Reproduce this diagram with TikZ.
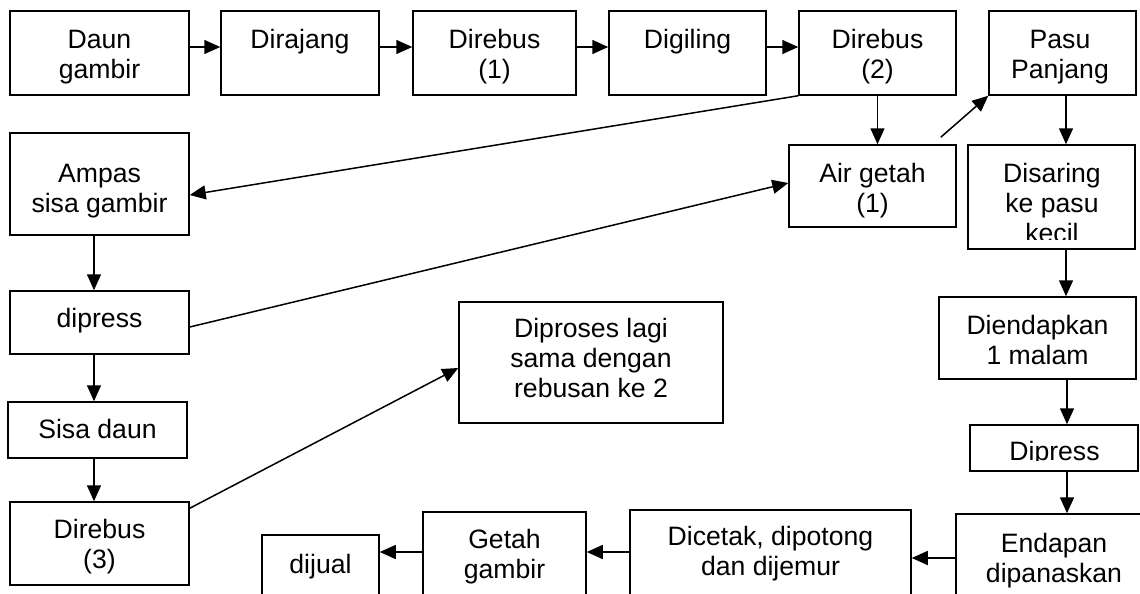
\documentclass[tikz,border=0pt]{standalone}
\usepackage{fontspec}
\setmainfont{Liberation Sans}
\usetikzlibrary{arrows.meta,calc}
\begin{document}
\begin{tikzpicture}[x=1pt,y=-1pt,
  box/.style={draw,line width=1.5pt,inner sep=0pt,rectangle},
  txt/.style={font=\fontsize{26.6}{30}\selectfont,align=center,inner sep=0pt,anchor=north},
  arr/.style={line width=1.5pt,-{Triangle[length=16pt,width=14pt]}}]
\clip (0,0) rectangle (1140,594);
\fill[white] (0,0) rectangle (1140,594);
% boxes
\node[box,minimum width=179pt,minimum height=84pt] (daun) at (99.5,53) {};
\node[box,minimum width=158pt,minimum height=84pt] (dirajang) at (300,53) {};
\node[box,minimum width=163pt,minimum height=84pt] (direbusone) at (494.5,53) {};
\node[box,minimum width=157pt,minimum height=84pt] (digiling) at (687.5,53) {};
\node[box,minimum width=157pt,minimum height=84pt] (direbustwo) at (877.5,53) {};
\node[box,minimum width=147pt,minimum height=84pt] (pasu) at (1062.5,53) {};
\node[box,minimum width=167pt,minimum height=82pt] (airgetah) at (872.5,186) {};
\node[box,minimum width=167pt,minimum height=104pt] (disaring) at (1051.5,197) {};
\node[box,minimum width=179pt,minimum height=102pt] (ampas) at (99.5,184) {};
\node[box,minimum width=179pt,minimum height=63pt] (dipressL) at (99.5,322.5) {};
\node[box,minimum width=179pt,minimum height=56pt] (sisa) at (97.5,430) {};
\node[box,minimum width=179pt,minimum height=83pt] (direbusthree) at (99.5,543.5) {};
\node[box,minimum width=264pt,minimum height=121pt] (diproses) at (591,362.5) {};
\node[box,minimum width=197pt,minimum height=82pt] (diendapkan) at (1037.5,338) {};
\node[box,minimum width=168pt,minimum height=46pt] (dipressR) at (1054,448) {};
\node[box,minimum width=196pt,minimum height=96pt] (endapan) at (1054,562) {};
\node[box,minimum width=281pt,minimum height=100pt] (dicetak) at (770.5,560) {};
\node[box,minimum width=163pt,minimum height=98pt] (getah) at (504.5,561) {};
\node[box,minimum width=117pt,minimum height=75pt] (dijual) at (320.5,572.5) {};
% texts
\node[txt] (tdaun) at (99.5,27) {\strut Daun\\\strut gambir};
\node[txt] (tdirajang) at (300,27) {\strut Dirajang};
\node[txt] (tdirebusone) at (494.5,27) {\strut Direbus\\\strut (1)};
\node[txt] (tdigiling) at (687.5,27) {\strut Digiling};
\node[txt] (tdirebustwo) at (877.5,27) {\strut Direbus\\\strut (2)};
\node[txt] (tpasu) at (1060,27) {\strut Pasu\\\strut Panjang};
\node[txt] (tairgetah) at (872.5,161) {\strut Air getah\\\strut (1)};
\begin{scope}
\clip (968,145) rectangle (1135,239.5);
\node[txt] (tdisaring) at (1052,161) {\strut Disaring\\\strut ke pasu\\\strut kecil};
\end{scope}
\node[txt] (tampas) at (99.5,161) {\strut Ampas\\\strut sisa gambir};
\node[txt] (tdipressL) at (99.5,306) {\strut dipress};
\node[txt] (tsisa) at (97.5,417) {\strut Sisa daun};
\node[txt] (tdirebusthree) at (99.5,517) {\strut Direbus\\\strut (3)};
\node[txt] (tdiproses) at (591,316) {\strut Diproses lagi\\\strut sama dengan\\\strut rebusan ke 2};
\node[txt] (tdiendapkan) at (1037.5,313) {\strut Diendapkan\\\strut 1 malam};
\begin{scope}
\clip (970,425) rectangle (1138,460.5);
\node[txt] (tdipressR) at (1054.5,439) {\strut Dipress};
\end{scope}
\node[txt] (tendapan) at (1054,531) {\strut Endapan\\\strut dipanaskan};
\node[txt] (tdicetak) at (770.5,524) {\strut Dicetak, dipotong\\\strut dan dijemur};
\node[txt] (tgetah) at (504.5,527) {\strut Getah\\\strut gambir};
\node[txt] (tdijual) at (320.5,552) {\strut dijual};
% helper coordinates
\coordinate (rowA) at (0,47);
\coordinate (rowE) at (0,558);
\coordinate (rowG) at (0,552);
\coordinate (colL) at (94,0);
\coordinate (colR) at (1066,0);
\coordinate (colRb) at (1067,0);
% connectors
\draw[arr] (daun.east |- rowA) -- (dirajang.west |- rowA);
\draw[arr] (dirajang.east |- rowA) -- (direbusone.west |- rowA);
\draw[arr] (direbusone.east |- rowA) -- (digiling.west |- rowA);
\draw[arr] (digiling.east |- rowA) -- (direbustwo.west |- rowA);
\draw[arr] (direbustwo.south west) -- ([yshift=-11pt]ampas.east);
\draw[arr] (direbustwo.south) -- (direbustwo.south |- airgetah.north);
\draw[arr] ([xshift=-16pt,yshift=7pt]airgetah.north east) -- (pasu.south west);
\draw[arr] (pasu.south -| colR) -- (disaring.north -| colR);
\draw[arr] (disaring.south -| colR) -- (diendapkan.north -| colR);
\draw[arr] (diendapkan.south -| colRb) -- (dipressR.north -| colRb);
\draw[arr] (dipressR.south -| colRb) -- (endapan.north -| colRb);
\draw[arr] (endapan.west |- rowE) -- (dicetak.east |- rowE);
\draw[arr] (dicetak.west |- rowG) -- (getah.east |- rowG);
\draw[arr] (getah.west |- rowG) -- (dijual.east |- rowG);
\draw[arr] (ampas.south -| colL) -- (dipressL.north -| colL);
\draw[arr] (dipressL.south -| colL) -- (sisa.north -| colL);
\draw[arr] (sisa.south -| colL) -- (direbusthree.north -| colL);
\draw[arr] ([yshift=-4.5pt]dipressL.east) -- ([yshift=3pt]airgetah.west);
\draw[arr] ([yshift=-7pt]direbusthree.north east) -- ([yshift=-5.5pt]diproses.west);
\end{tikzpicture}
\end{document}
